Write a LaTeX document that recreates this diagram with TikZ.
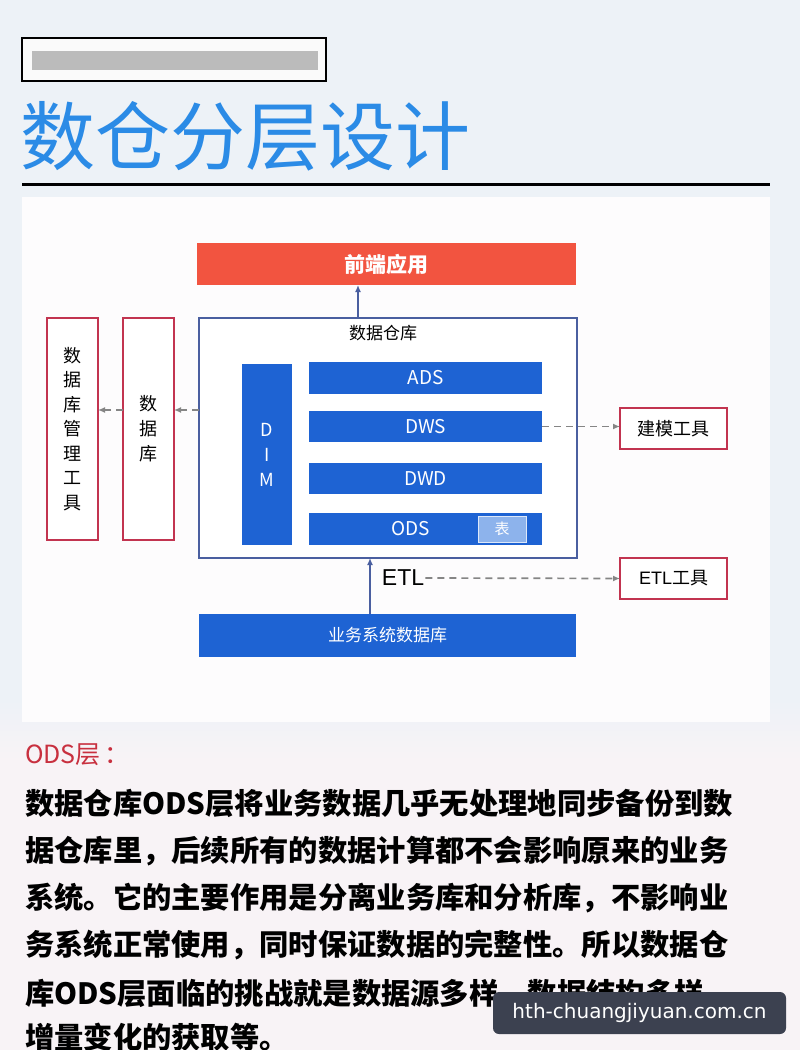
\documentclass[tikz,border=0pt]{standalone}
\usepackage{fontspec}
\setmainfont{Noto Sans CJK SC}
\newfontfamily\cjk{Noto Sans CJK SC}
\newfontfamily\arialf{Liberation Sans}
\newfontfamily\wmfont{DejaVu Sans}
\usetikzlibrary{arrows.meta,calc}
\definecolor{bgtop}{HTML}{EDF2F7}
\definecolor{bgbot}{HTML}{F8F3F6}
\definecolor{panel}{HTML}{FDFCFD}
\definecolor{titleblue}{HTML}{2B8BE6}
\definecolor{layerblue}{HTML}{1E63D3}
\definecolor{frontred}{HTML}{F25440}
\definecolor{dwborder}{HTML}{4A5FA0}
\definecolor{toolred}{HTML}{C23450}
\definecolor{dashgray}{HTML}{858585}
\definecolor{biaoblue}{HTML}{8DB3EC}
\definecolor{labelred}{HTML}{C8303F}
\definecolor{wmbg}{HTML}{3C4150}
\tikzset{
  box/.style={rectangle,inner sep=0pt,outer sep=0pt},
  layer/.style={box,fill=layerblue,text=white,font=\fontsize{19}{21}\selectfont,minimum width=233pt},
  toolbox/.style={box,draw=toolred,line width=1.6pt,fill=white,text=black},
  dasharrow/.style={draw=dashgray,line width=1.7pt,dash pattern=on 7pt off 5pt,-{Latex[length=7pt,width=6pt]}},
  solidarrow/.style={draw=dwborder,line width=1.5pt,-{Latex[length=7pt,width=6pt]}},
  bodytext/.style={anchor=west,inner sep=0pt,font=\bfseries\fontsize{29.3}{30}\selectfont,text=black}
}
\begin{document}
\begin{tikzpicture}[x=1pt,y=-1pt]
\useasboundingbox (0,0) rectangle (800,1050);
% background
\fill[bgtop] (0,0) rectangle (800,722);
\shade[top color=bgtop,bottom color=bgbot] (0,700) rectangle (800,760);
\fill[bgbot] (0,760) rectangle (800,1050);
\fill[panel] (22,197) rectangle (770,722);
% top blurred caption box
\draw[black,line width=1.5pt,fill=white!96!gray] (22,38) rectangle (326,81);
\fill[gray!70,opacity=0.75] (32,51) rectangle (318,70);
% title
\node[anchor=west,inner sep=0pt,text=titleblue,font=\fontsize{75}{80}\selectfont] (title) at (20,136) {数仓分层设计};
\draw[black,line width=3pt] (22,184) -- (770,184);
% diagram
\node[box,fill=frontred,text=white,font=\bfseries\fontsize{21}{24}\selectfont,minimum width=379pt,minimum height=42pt] (front) at (386.5,264) {前端应用};
\node[box,draw=dwborder,line width=1.3pt,fill=white,minimum width=378pt,minimum height=240pt] (dw) at (388,438) {};
\node[font=\fontsize{17}{20}\selectfont,text=black] (dwlabel) at (383,333) {数据仓库};
\node[box,fill=layerblue,text=white,font=\fontsize{18}{25}\selectfont,align=center,minimum width=50pt,minimum height=181pt] (dim) at (267,454.5) {D\\I\\M};
\node[layer,minimum height=32pt] (ads) at (425.5,378) {ADS};
\node[layer,minimum height=31pt] (dws) at (425.5,426.5) {DWS};
\node[layer,minimum height=31pt] (dwd) at (425.5,478.5) {DWD};
\node[layer,minimum height=32pt] (ods) at (425.5,529) {\hspace*{-30pt}ODS};
\node[box,fill=biaoblue,draw=white!70!biaoblue,line width=0.8pt,text=white,font=\fontsize{15}{18}\selectfont,minimum width=48pt,minimum height=26pt] (biao) at (502,529) {表};
\node[box,fill=layerblue,text=white,font=\fontsize{17}{20}\selectfont,minimum width=377pt,minimum height=43pt] (biz) at (387.5,635.5) {业务系统数据库};
\node[toolbox,font=\fontsize{18}{20}\selectfont,minimum width=107pt,minimum height=41pt] (model) at (673.5,428.5) {建模工具};
\node[toolbox,font=\fontsize{18}{20}\selectfont,minimum width=107pt,minimum height=41pt] (etltool) at (673.5,578.5) {{\arialf ETL}工具};
\node[toolbox,font=\fontsize{18}{25}\selectfont,align=center,minimum width=51pt,minimum height=222pt] (db) at (148.5,429) {数\\据\\库};
\node[toolbox,font=\fontsize{18}{24.5}\selectfont,align=center,minimum width=51pt,minimum height=222pt] (dbm) at (72.5,429) {数\\据\\库\\管\\理\\工\\具};
\node[inner sep=1pt,font=\arialf\fontsize{23}{25}\selectfont,text=black] (etl) at (403,578) {ETL};
% connectors
\path (dw.north) ++(-30,0) coordinate (upstart);
\draw[solidarrow] (upstart) -- (upstart |- front.south);
\path (biz.north) ++(-17.5,0) coordinate (bizstart);
\draw[solidarrow] (bizstart) -- (bizstart |- dw.south);
\draw[dasharrow] (etl.east) -- (etltool.west);
\draw[dasharrow] (dws.east) -- (dws.east -| model.west);
\path (dw.west) ++(0,-28) coordinate (lrow);
\draw[dasharrow] (lrow) -- (lrow -| db.east);
\draw[dasharrow] (lrow -| db.west) -- (lrow -| dbm.east);
% text section
\node[anchor=west,inner sep=0pt,text=labelred,font=\fontsize{25}{28}\selectfont] (odslabel) at (25,755) {ODS层\,：};
\node[bodytext] (l1) at (25,803) {数据仓库ODS层将业务数据几乎无处理地同步备份到数};
\node[bodytext] (l2) at (25,851) {据仓库里，后续所有的数据计算都不会影响原来的业务};
\node[bodytext] (l3) at (25,898) {系统。它的主要作用是分离业务库和分析库，不影响业};
\node[bodytext] (l4) at (25,945) {务系统正常使用，同时保证数据的完整性。所以数据仓};
\node[bodytext] (l5) at (25,993) {库ODS层面临的挑战就是数据源多样、数据结构多样、};
\node[bodytext] (l6) at (25,1037) {增量变化的获取等。};
% watermark
\node[box,fill=wmbg,rounded corners=6pt,text=white,font=\wmfont\fontsize{20}{22}\selectfont,minimum width=293pt,minimum height=42pt] (wm) at (639.5,1013) {hth-chuangjiyuan.com.cn};
\end{tikzpicture}
\end{document}
